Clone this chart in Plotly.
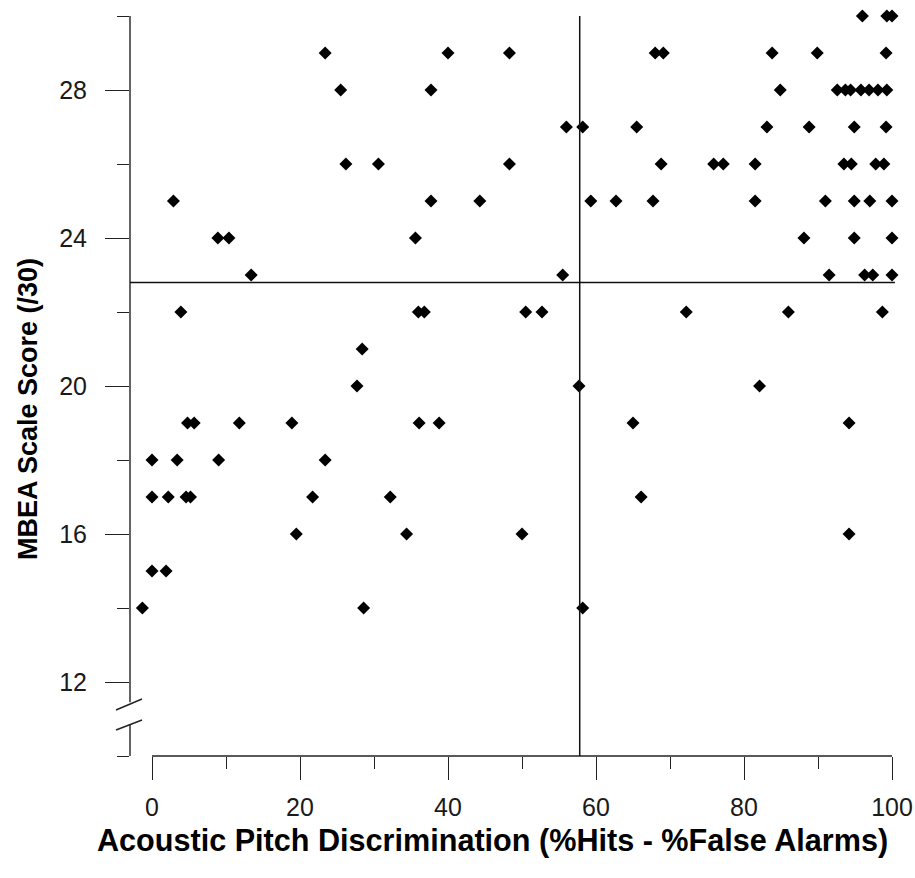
import plotly.graph_objects as go

# ---- data ----
pitch_30 = [96.0, 99.3, 100.0]
pitch_29 = [23.4, 40.0, 48.3, 68.0, 69.1, 83.8, 89.9, 99.2]
pitch_28 = [25.5, 37.7, 84.9, 92.6, 93.7, 94.4, 95.8, 96.9, 98.1, 99.3]
pitch_27 = [56.0, 58.2, 65.5, 83.1, 88.8, 94.9, 99.2]
pitch_26 = [26.2, 30.6, 48.3, 68.8, 75.9, 77.2, 81.5, 93.5, 94.5, 97.8, 98.9]
pitch_25 = [2.9, 37.7, 44.3, 59.3, 62.7, 67.7, 81.5, 91.0, 94.9, 97.0, 100.0]
pitch_24 = [8.9, 10.4, 35.6, 88.1, 94.9, 100.0]
pitch_23 = [13.4, 55.5, 91.5, 96.3, 97.4, 100.0]
pitch_22 = [3.9, 36.0, 36.8, 50.5, 52.7, 72.2, 86.0, 98.7]
pitch_21 = [28.4]
pitch_20 = [27.7, 57.7, 82.1]
pitch_19 = [4.8, 5.7, 11.8, 18.9, 36.1, 38.8, 65.0, 94.2]
pitch_18 = [0.0, 3.4, 9.0, 23.4]
pitch_17 = [0.0, 2.2, 4.6, 5.2, 21.7, 32.2, 66.1]
pitch_16 = [19.5, 34.4, 50.0, 94.2]
pitch_15 = [0.0, 1.9]
pitch_14 = [-1.3, 28.6, 58.2]

groups = {
    30: pitch_30, 29: pitch_29, 28: pitch_28, 27: pitch_27, 26: pitch_26,
    25: pitch_25, 24: pitch_24, 23: pitch_23, 22: pitch_22, 21: pitch_21,
    20: pitch_20, 19: pitch_19, 18: pitch_18, 17: pitch_17, 16: pitch_16,
    15: pitch_15, 14: pitch_14,
}
pitch = []
mbea = []
for score, xs in groups.items():
    for v in xs:
        pitch.append(v)
        mbea.append(score)

pitch_cutoff = 57.8
mbea_cutoff = 22.8

x_ticks = [0, 20, 40, 60, 80, 100]
x_minor = [10, 30, 50, 70, 90]
y_ticks = [12, 16, 20, 24, 28]
y_minor = [10, 14, 18, 22, 26, 30]

FONT = "Liberation Sans, Arial, sans-serif"
INK = "#1a1a1a"

fig = go.Figure()
fig.add_trace(go.Scatter(
    x=pitch, y=mbea, mode="markers",
    marker=dict(symbol="diamond", size=10, color="black", line=dict(width=0)),
    cliponaxis=False, showlegend=False, hoverinfo="x+y",
))

W, H = 915, 878
L, R, T, B = 130, 15, 16, 122
plot_w = W - L - R
plot_h = H - T - B
px_per_unit = 7.4
x0_px = 152 - L
x_lo = -x0_px / px_per_unit
x_hi = (plot_w - x0_px) / px_per_unit


def py(pix):
    return (H - B - pix) / plot_h


shapes = [
    # x axis line (0..100)
    dict(type="line", xref="x", yref="paper", x0=0, x1=100, y0=0, y1=0,
         line=dict(color="#222", width=1.4)),
    # y axis upper segment
    dict(type="line", xref="paper", yref="y", x0=0, x1=0, y0=11.45, y1=30,
         line=dict(color="#222", width=1.4)),
    # y axis lower segment
    dict(type="line", xref="paper", yref="y", x0=0, x1=0, y0=10, y1=10.85,
         line=dict(color="#222", width=1.4)),
    # break marks
    dict(type="line", xref="paper", yref="paper", x0=-14 / plot_w, x1=12 / plot_w,
         y0=py(710), y1=py(699), line=dict(color="#222", width=1.4)),
    dict(type="line", xref="paper", yref="paper", x0=-14 / plot_w, x1=12 / plot_w,
         y0=py(730), y1=py(720), line=dict(color="#222", width=1.4)),
    # reference lines
    dict(type="line", xref="x", yref="y", x0=pitch_cutoff, x1=pitch_cutoff, y0=10, y1=30,
         line=dict(color="#111", width=1.5)),
    dict(type="line", xref="x", yref="y", x0=x_lo, x1=100.4, y0=mbea_cutoff, y1=mbea_cutoff,
         line=dict(color="#111", width=1.5)),
]

fig.update_layout(
    template="none",
    width=W, height=H,
    margin=dict(l=L, r=R, t=T, b=B, pad=0, autoexpand=False),
    paper_bgcolor="white", plot_bgcolor="white",
    font=dict(family=FONT, color=INK),
    shapes=shapes,
    xaxis=dict(
        automargin=False,
        range=[x_lo, x_hi], showgrid=False, zeroline=False, showline=False,
        tickmode="array", tickvals=x_ticks, ticktext=[str(v) for v in x_ticks],
        ticks="outside", ticklen=23, tickwidth=1.4, tickcolor="#222",
        ticklabelstandoff=6,
        tickfont=dict(size=25, family=FONT, color=INK),
        minor=dict(tickmode="array", tickvals=x_minor, ticks="outside",
                   ticklen=12, tickwidth=1.4, tickcolor="#222", showgrid=False),
        fixedrange=True,
    ),
    yaxis=dict(
        automargin=False,
        range=[10, 30], showgrid=False, zeroline=False, showline=False,
        tickmode="array", tickvals=y_ticks, ticktext=[str(v) for v in y_ticks],
        ticks="outside", ticklen=24, tickwidth=1.4, tickcolor="#222",
        ticklabelstandoff=13,
        tickfont=dict(size=25, family=FONT, color=INK),
        minor=dict(tickmode="array", tickvals=y_minor, ticks="outside",
                   ticklen=12, tickwidth=1.4, tickcolor="#222", showgrid=False),
        fixedrange=True,
    ),
    annotations=[
        dict(text="<b>Acoustic Pitch Discrimination (%Hits - %False Alarms)</b>",
             xref="paper", yref="paper", x=(492 - L) / plot_w, y=py(840),
             xanchor="center", yanchor="middle", showarrow=False,
             font=dict(size=30.6, family=FONT, color="black")),
        dict(text="<b>MBEA Scale Score (/30)</b>",
             xref="paper", yref="paper", x=(28 - L) / plot_w, y=py(409),
             xanchor="center", yanchor="middle", showarrow=False, textangle=-90,
             font=dict(size=27, family=FONT, color="black")),
    ],
)

fig.write_html("out.html")
